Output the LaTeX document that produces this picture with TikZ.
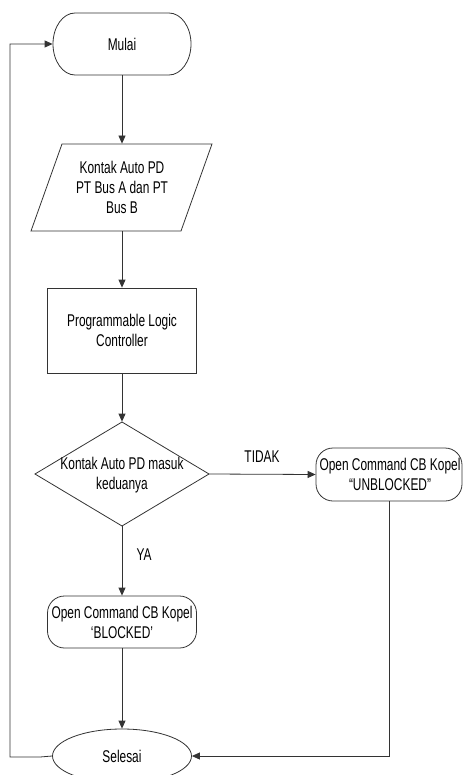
\documentclass[tikz,border=0pt]{standalone}
\usepackage{fontspec}
\setmainfont[FakeStretch=0.7]{Liberation Sans}
\usetikzlibrary{arrows.meta,shapes.geometric}
\begin{document}
\begin{tikzpicture}[x=1pt,y=-1pt,
  line width=0.8pt,
  every node/.style={font=\fontsize{17pt}{20pt}\selectfont, align=center, inner sep=0pt},
  ln/.style={draw=black!80, line width=0.8pt},
  arr/.style={ln, -{Triangle[length=8pt,width=7pt]}},
  shp/.style={draw=black!80, line width=0.8pt},
  anchorbox/.style={draw=none, minimum width=#1},
  rbox/.style={shp, rounded corners=17pt, minimum width=149pt, minimum height=52pt}
]
\useasboundingbox (0,0) rectangle (463,775);
\clip (0,0) rectangle (463,775);

% Mulai (terminator)
\node[minimum width=138pt, minimum height=62pt] (mulai) at (122,44) {};
\draw[shp] (75,13) -- (169,13) .. controls (181.1,13) and (191,26.9) .. (191,44)
  .. controls (191,61.1) and (181.1,75) .. (169,75) -- (75,75)
  .. controls (62.9,75) and (53,61.1) .. (53,44)
  .. controls (53,26.9) and (62.9,13) .. (75,13) -- cycle;
\node (mulait) at (mulai) {Mulai};

% Input parallelogram
\node[minimum width=150pt, minimum height=87pt] (io) at (122,187.5) {};
\draw[shp] (62,144) -- (212,144) -- (181,231) -- (31,231) -- cycle;
\node (iot) at (io) {Kontak Auto PD\\PT Bus A dan PT\\Bus B};

% PLC rectangle
\node[shp, minimum width=149pt, minimum height=85pt] (plc) at (122,330.5) {};
\node (plct) at (plc) {Programmable Logic\\Controller};

% Decision diamond
\node[minimum width=174pt, minimum height=104pt] (dec) at (122,474) {};
\draw[shp] (122,422) -- (209,474) -- (122,526) -- (35,474) -- cycle;
\node (dect) at (122,475.5) {Kontak Auto PD masuk\\keduanya};

% UNBLOCKED box
\node[rbox, minimum width=146pt, minimum height=53pt] (unb) at (389,474.5) {};
\node (unbt) at (390,474.5) {Open Command CB Kopel\\``UNBLOCKED''};

% BLOCKED box
\node[rbox] (blk) at (122,622) {};
\node (blkt) at (122,622) {Open Command CB Kopel\\`BLOCKED'};

% Selesai ellipse
\node[ellipse, shp, minimum width=139pt, minimum height=54pt] (sel) at (122,756) {};
\node (selt) at (sel) {Selesai};

% connectors
\draw[arr] (mulai.south) -- (io.north);
\draw[arr] (io.south) -- (plc.north);
\draw[arr] (plc.south) -- (dec.north);
\draw[arr] (dec.south) -- (blk.north);
\draw[arr] (dec.east) -- (unb.west);
\draw[arr] (blk.south) -- (sel.north);
\draw[arr] (unb.south) |- (sel.east);
\coordinate (k1) at (40,757);
\coordinate (k2) at (10,757);
\coordinate (k3) at (10,44);
\draw[arr] (sel.west) -- (k1) -- (k2) -- (k3) -- (mulai.west);

% labels
\node (ya) at (144,555) {YA};
\node (tidak) at (262,457) {TIDAK};
\end{tikzpicture}
\end{document}
